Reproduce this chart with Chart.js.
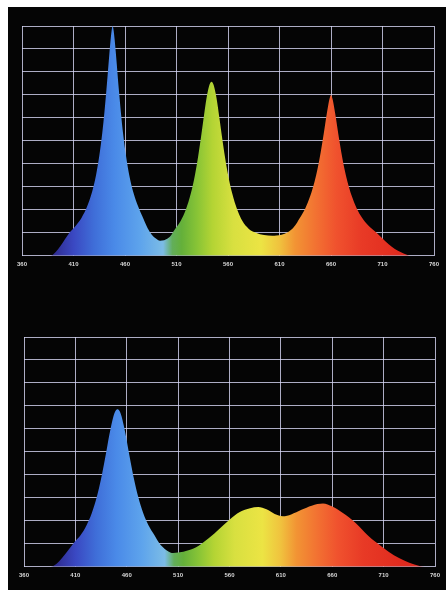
<!DOCTYPE html>
<html>
<head>
<meta charset="utf-8">
<script src="https://cdn.jsdelivr.net/npm/chart.js@4/dist/chart.umd.min.js"></script>
<style>
  html, body { margin: 0; padding: 0; background: #fff; }
  body { width: 446px; height: 590px; position: relative; overflow: hidden; }
  #panel { position: absolute; left: 8px; top: 7px; right: 0; bottom: 0; background: #050505; }
  .box { position: absolute; left: 8px; width: 438px; }
  #top { top: 7px; height: 275px; }
  #bottom { top: 300px; height: 290px; }
</style>
</head>
<body>
<div id="panel"></div>
<div class="box" id="top"><canvas id="topChart"></canvas></div>
<div class="box" id="bottom"><canvas id="bottomChart"></canvas></div>
<script>
// wavelength ticks (nm)
const tickLabels = [360, 410, 460, 510, 560, 610, 660, 710, 760];

// top panel: three narrow LED peaks (blue, green, red)
const topWavelengths = [360, 387, 390, 395, 400, 406, 412, 418, 423, 428, 432, 435, 438, 440, 442, 444, 445, 446, 447, 448, 449, 450, 451, 452, 454, 456, 458, 461, 464, 468, 473, 478, 482, 486, 490, 494, 498, 500, 504, 508, 514, 519, 524, 528, 531, 534, 536, 538, 540, 542, 544, 546, 548, 550, 552, 554, 557, 560, 564, 569, 574, 580, 587, 595, 603, 607, 612, 618, 624, 630, 635, 640, 644, 647, 650, 652, 654, 656, 657, 658, 659, 660, 661, 662, 663, 664, 666, 668, 670, 673, 676, 680, 685, 690, 696, 704, 710, 716, 722, 728, 733, 738, 760];
const topIntensity = [0, 0, 0.05, 0.28, 0.6, 1.0, 1.3, 1.67, 2.12, 2.78, 3.54, 4.34, 5.38, 6.25, 7.25, 8.35, 8.89, 9.39, 9.79, 10, 9.79, 9.39, 8.89, 8.35, 7.25, 6.25, 5.38, 4.34, 3.54, 2.78, 2.12, 1.6, 1.2, 0.92, 0.75, 0.66, 0.68, 0.72, 0.85, 1.12, 1.51, 2.0, 2.73, 3.54, 4.32, 5.24, 5.89, 6.53, 7.07, 7.44, 7.57, 7.44, 7.07, 6.53, 5.89, 5.24, 4.32, 3.54, 2.73, 2.0, 1.51, 1.18, 1.0, 0.9, 0.87, 0.88, 0.92, 1.02, 1.25, 1.67, 2.06, 2.62, 3.22, 3.8, 4.51, 5.05, 5.63, 6.21, 6.48, 6.72, 6.9, 7.0, 6.9, 6.72, 6.48, 6.21, 5.63, 5.05, 4.51, 3.8, 3.22, 2.62, 2.06, 1.67, 1.33, 1.01, 0.75, 0.5, 0.3, 0.15, 0.06, 0, 0];

// bottom panel: blue peak plus broad phosphor hump
const bottomWavelengths = [360, 386, 388, 392, 397, 403, 409, 415, 421, 426, 431, 435, 438, 441, 443, 445, 447, 449, 451, 453, 455, 457, 459, 461, 464, 467, 471, 476, 481, 487, 492, 497, 501, 505, 510, 520, 530, 540, 550, 560, 570, 580, 588, 596, 604, 612, 620, 630, 640, 651, 660, 670, 683, 695, 709, 720, 730, 740, 750, 760];
const bottomIntensity = [0, 0, 0.02, 0.14, 0.38, 0.72, 1.07, 1.37, 1.82, 2.34, 3.07, 3.83, 4.51, 5.24, 5.73, 6.17, 6.54, 6.78, 6.86, 6.78, 6.54, 6.17, 5.73, 5.24, 4.51, 3.83, 3.07, 2.34, 1.82, 1.37, 1.0, 0.78, 0.66, 0.6, 0.62, 0.72, 0.92, 1.25, 1.65, 2.05, 2.38, 2.55, 2.6, 2.5, 2.3, 2.2, 2.28, 2.48, 2.66, 2.75, 2.62, 2.35, 1.9, 1.35, 0.85, 0.5, 0.27, 0.1, 0, 0];

const spectrumStops = [
  [390, "#2e2a8e"], [410, "#3a48c2"], [430, "#3f6ed8"], [450, "#4a8ae8"],
  [475, "#5ea4ec"], [497, "#7cbce6"], [506, "#62ae5a"], [515, "#64b03a"],
  [530, "#88c436"], [545, "#b4d434"], [565, "#d8e040"], [592, "#ece444"],
  [610, "#f0c23e"], [625, "#f29434"], [645, "#f27232"], [665, "#f0522e"],
  [690, "#e83a26"], [730, "#e02a1e"]
];

function spectrumFill(context) {
  const chart = context.chart;
  const x = chart.scales.x;
  if (!chart.chartArea || !x) return "#4a8ae8";
  const x0 = x.getPixelForValue(360), x1 = x.getPixelForValue(760);
  const g = chart.ctx.createLinearGradient(x0, 0, x1, 0);
  spectrumStops.forEach(([nm, c]) => g.addColorStop((nm - 360) / 400, c));
  return g;
}

function makeChart(id, xs, ys, pad) {
  const points = xs.map((w, i) => ({ x: w, y: ys[i] }));
  const gridColor = "rgba(215, 215, 245, 0.8)";
  return new Chart(document.getElementById(id), {
    type: "line",
    data: {
      datasets: [{
        data: points,
        fill: "origin",
        backgroundColor: spectrumFill,
        borderWidth: 0,
        pointRadius: 0,
        cubicInterpolationMode: "monotone",
      }],
    },
    options: {
      responsive: true,
      maintainAspectRatio: false,
      animation: false,
      layout: { padding: pad },
      plugins: { legend: { display: false }, tooltip: { enabled: false } },
      scales: {
        x: {
          type: "linear", min: 360, max: 760, z: 1,
          afterBuildTicks: (axis) => { axis.ticks = tickLabels.map(v => ({ value: v })); },
          grid: { color: gridColor, lineWidth: 1, drawTicks: false },
          border: { display: false },
          ticks: {
            padding: 5, color: "#d8d8d8", maxRotation: 0,
            font: { family: "Liberation Sans", size: 6, weight: "bold" },
          },
        },
        y: {
          min: 0, max: 10, z: 1,
          ticks: { stepSize: 1, display: false },
          grid: { color: gridColor, lineWidth: 1, drawTicks: false },
          border: { display: false },
        },
      },
    },
  });
}

makeChart("topChart", topWavelengths, topIntensity, { left: 14, top: 19, right: 12, bottom: 9 });
makeChart("bottomChart", bottomWavelengths, bottomIntensity, { left: 16, top: 37, right: 11, bottom: 6 });
</script>
</body>
</html>
